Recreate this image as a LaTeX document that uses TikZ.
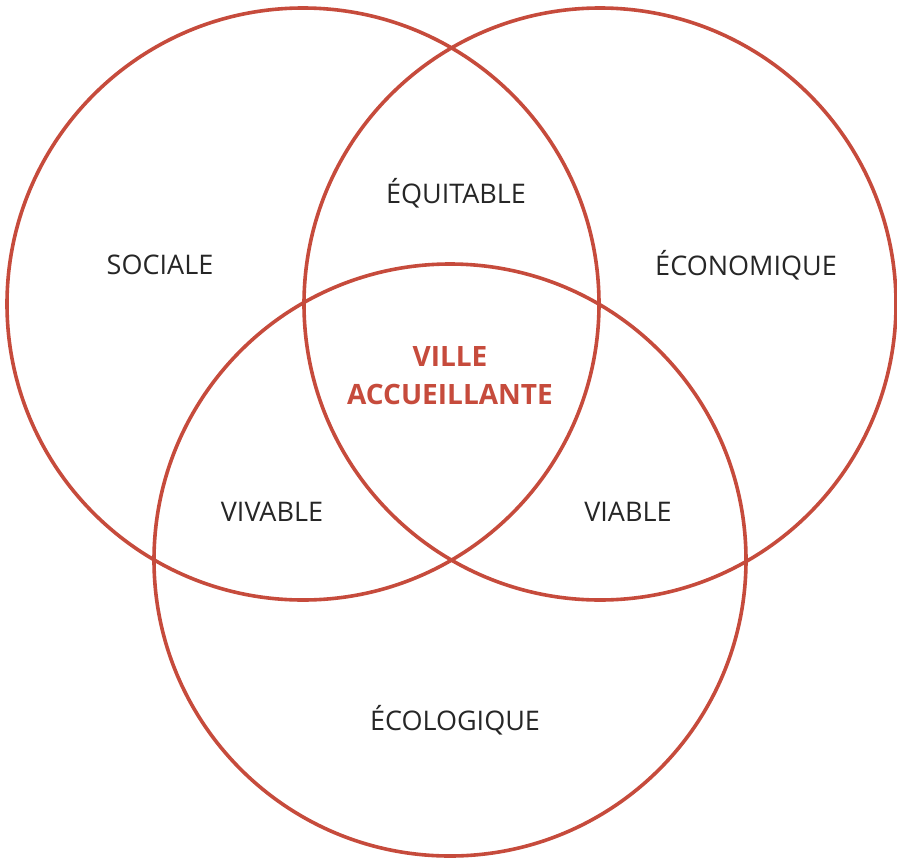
\documentclass[tikz,border=0pt]{standalone}
\usepackage{fontspec}
\setmainfont{Open Sans}
\usepackage{tikz}
\definecolor{vennred}{HTML}{C64B3C}
\definecolor{venntext}{HTML}{262626}
\tikzset{
  ring/.style={draw=vennred,line width=3.6pt},
  zone/.style={text=venntext,font=\fontsize{27}{31}\selectfont},
  core/.style={text=vennred,font=\fontsize{28}{38}\selectfont\bfseries,align=center}
}

\begin{document}
\begin{tikzpicture}[x=1pt,y=-1pt]
\useasboundingbox (0,0) rectangle (897,857);
% three circles
\draw[ring] (303,304) circle (296);
\draw[ring] (600,304) circle (296);
\draw[ring] (450,560) circle (296);
% labels
\node[zone] (sociale) at (160,265) {SOCIALE};
\node[zone] (economique) at (746,265) {ÉCONOMIQUE};
\node[zone] (ecologique) at (455,720) {ÉCOLOGIQUE};
\node[zone] (equitable) at (456,193) {ÉQUITABLE};
\node[zone] (vivable) at (272,512) {VIVABLE};
\node[zone] (viable) at (628,512) {VIABLE};
\node[core] (ville) at (450,376) {VILLE\\ACCUEILLANTE};
\end{tikzpicture}
\end{document}
